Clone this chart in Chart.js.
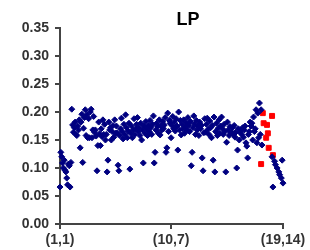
<!DOCTYPE html>
<html>
<head>
<meta charset="utf-8">
<script src="https://cdn.jsdelivr.net/npm/chart.js@4"></script>
<style>
  html, body { margin: 0; padding: 0; background: #fff; }
  #wrap { width: 310px; height: 250px; }
</style>
</head>
<body>
<div id="wrap"><canvas id="lpChart" width="310" height="250"></canvas></div>
<script>
// Datos
const chartTitle = "LP";
const yTicks = [0, 0.05, 0.10, 0.15, 0.20, 0.25, 0.30, 0.35];
const xTickPos = [1, 133, 266];
const xTickLabels = ["(1,1)", "(10,7)", "(19,14)"];

// serie azul: un valor por posición 1..266
const blueY = [
  0.066, 0.128, 0.120, 0.109, 0.100, 0.114, 0.096, 0.093, 0.082, 0.070, 0.107, 0.104,
  0.066, 0.110, 0.205, 0.177, 0.164, 0.172, 0.182, 0.160, 0.158, 0.175, 0.168, 0.186,
  0.136, 0.182, 0.196, 0.110, 0.171, 0.190, 0.204, 0.158, 0.195, 0.154, 0.188, 0.154,
  0.200, 0.205, 0.154, 0.168, 0.192, 0.164, 0.168, 0.157, 0.095, 0.140, 0.182, 0.161,
  0.140, 0.170, 0.156, 0.186, 0.160, 0.178, 0.150, 0.160, 0.093, 0.114, 0.182, 0.168,
  0.172, 0.150, 0.165, 0.176, 0.155, 0.186, 0.162, 0.175, 0.163, 0.105, 0.095, 0.158,
  0.170, 0.189, 0.165, 0.152, 0.178, 0.160, 0.195, 0.172, 0.154, 0.166, 0.180, 0.098,
  0.162, 0.175, 0.154, 0.168, 0.188, 0.160, 0.170, 0.178, 0.190, 0.165, 0.172, 0.158,
  0.180, 0.150, 0.168, 0.109, 0.175, 0.162, 0.183, 0.170, 0.158, 0.176, 0.165, 0.185,
  0.172, 0.160, 0.178, 0.193, 0.109, 0.128, 0.168, 0.180, 0.174, 0.162, 0.186, 0.159,
  0.175, 0.168, 0.183, 0.170, 0.177, 0.190, 0.128, 0.136, 0.198, 0.165, 0.185, 0.180,
  0.154, 0.176, 0.192, 0.170, 0.182, 0.166, 0.188, 0.175, 0.132, 0.200, 0.168, 0.185,
  0.159, 0.178, 0.170, 0.186, 0.162, 0.174, 0.181, 0.168, 0.190, 0.176, 0.165, 0.183,
  0.104, 0.128, 0.172, 0.193, 0.178, 0.160, 0.185, 0.168, 0.175, 0.158, 0.182, 0.170,
  0.176, 0.118, 0.095, 0.163, 0.188, 0.164, 0.178, 0.189, 0.169, 0.160, 0.184, 0.172,
  0.154, 0.176, 0.114, 0.191, 0.093, 0.165, 0.180, 0.158, 0.171, 0.186, 0.162, 0.175,
  0.191, 0.170, 0.160, 0.178, 0.165, 0.093, 0.146, 0.182, 0.168, 0.158, 0.174, 0.162,
  0.164, 0.172, 0.160, 0.176, 0.155, 0.164, 0.100, 0.132, 0.170, 0.150, 0.164, 0.168,
  0.160, 0.172, 0.155, 0.168, 0.175, 0.145, 0.139, 0.118, 0.160, 0.165, 0.182, 0.175,
  0.180, 0.150, 0.191, 0.165, 0.170, 0.204, 0.145, 0.198, 0.154, 0.216, 0.160, 0.204,
  0.141, null, null, null, null, null, null, null, null, null, null, null,
  0.120, 0.066, null, 0.112, 0.106, null, 0.100, null, 0.093, 0.088, null, 0.082, 0.114, 0.073
];

// serie roja
const redX = [240, 242, 243, 246, 247, 248, 249, 253, 254];
const redY = [0.107, 0.198, 0.180, 0.154, 0.177, 0.162, 0.136, 0.193, 0.123];

const bluePoints = blueY.map((v, i) => ({x: i + 1, y: v})).filter(p => p.y !== null);
const redPoints = redX.map((x, i) => ({x: x, y: redY[i]}));

const FONT = "'Liberation Sans', Arial, sans-serif";
const AXIS = "#444";

// Título dibujado a mano (centrado como en el original)
const titlePlugin = {
  id: "lpTitle",
  afterDraw(chart) {
    const ctx = chart.ctx;
    ctx.save();
    ctx.font = "bold 18px " + FONT;
    ctx.fillStyle = "#000";
    ctx.textAlign = "center";
    ctx.textBaseline = "middle";
    ctx.fillText(chartTitle, 188, 20);
    ctx.restore();
  }
};

new Chart(document.getElementById("lpChart"), {
  type: "scatter",
  data: {
    datasets: [{
      label: "azul",
      data: bluePoints,
      pointStyle: "rectRot",
      pointRadius: 3,
      backgroundColor: "#000080",
      borderColor: "#000080",
      borderWidth: 1
    }, {
      label: "rojo",
      data: redPoints,
      pointStyle: "rect",
      pointRadius: 3.5,
      backgroundColor: "#ff0000",
      borderColor: "#ff0000",
      borderWidth: 1
    }]
  },
  options: {
    responsive: false,
    animation: false,
    clip: false,
    layout: { padding: { top: 28, right: 27, left: 0, bottom: 0 } },
    plugins: {
      legend: { display: false },
      tooltip: { enabled: false },
      title: { display: false }
    },
    scales: {
      x: {
        type: "linear",
        min: 1,
        max: 266,
        afterBuildTicks: axis => { axis.ticks = xTickPos.map(v => ({value: v})); },
        afterFit: axis => { axis.height = 26; },
        ticks: {
          autoSkip: false,
          maxRotation: 0,
          padding: 3,
          color: "#333",
          font: { family: FONT, size: 14, weight: "bold" },
          callback: v => xTickLabels[xTickPos.indexOf(v)]
        },
        grid: { drawOnChartArea: false, drawTicks: true, tickLength: 5, color: AXIS, lineWidth: 2 },
        border: { color: AXIS, width: 2 }
      },
      y: {
        min: 0,
        max: 0.35,
        afterBuildTicks: axis => { axis.ticks = yTicks.map(v => ({value: v})); },
        afterFit: axis => { axis.width = 60; },
        ticks: {
          padding: 6,
          color: "#333",
          font: { family: FONT, size: 14, weight: "bold" },
          callback: v => v.toFixed(2)
        },
        grid: { drawOnChartArea: false, drawTicks: true, tickLength: 5, color: AXIS, lineWidth: 2 },
        border: { color: AXIS, width: 2 }
      }
    }
  },
  plugins: [titlePlugin]
});
</script>
</body>
</html>
